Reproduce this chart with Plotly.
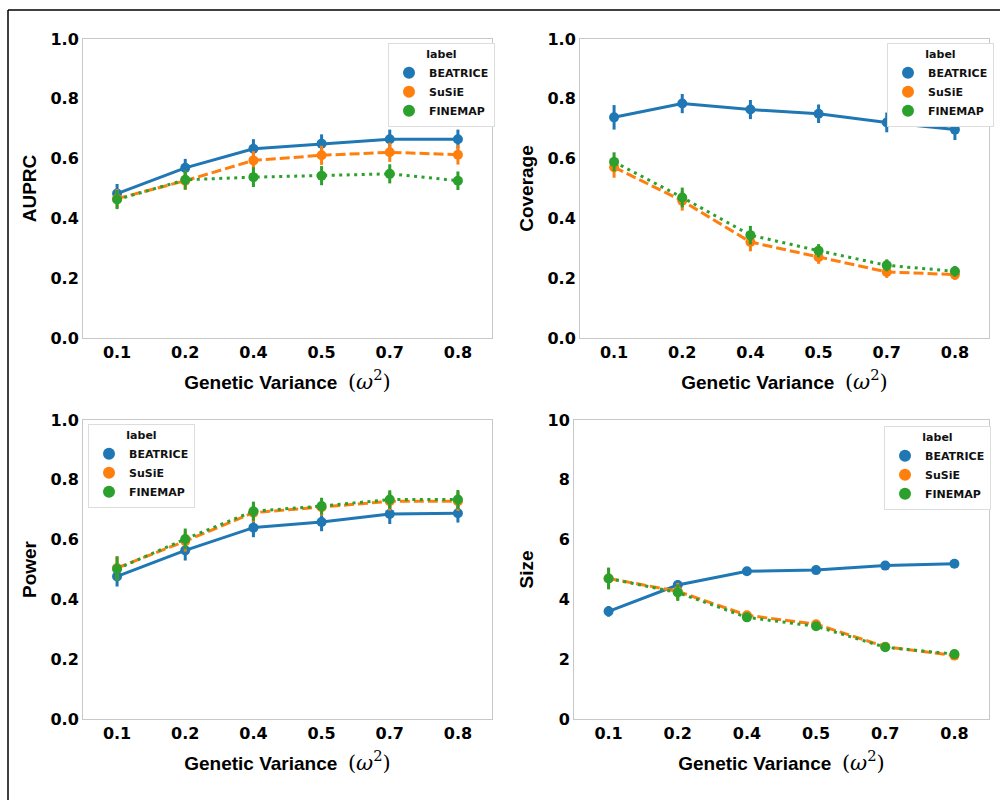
import plotly.graph_objects as go

categories = ["0.1", "0.2", "0.4", "0.5", "0.7", "0.8"]
methods = ["BEATRICE", "SuSiE", "FINEMAP"]

# AUPRC
auprc_beatrice = [0.483, 0.569, 0.633, 0.650, 0.665, 0.665]
auprc_susie = [0.466, 0.526, 0.594, 0.611, 0.621, 0.613]
auprc_finemap = [0.463, 0.529, 0.538, 0.543, 0.549, 0.526]
auprc_err_beatrice = [0.032, 0.030, 0.032, 0.031, 0.032, 0.032]
auprc_err_susie = [0.032, 0.031, 0.031, 0.032, 0.032, 0.033]
auprc_err_finemap = [0.032, 0.032, 0.033, 0.032, 0.032, 0.031]

# Coverage
cov_beatrice = [0.738, 0.784, 0.764, 0.750, 0.721, 0.697]
cov_susie = [0.571, 0.459, 0.321, 0.270, 0.221, 0.212]
cov_finemap = [0.589, 0.470, 0.344, 0.292, 0.243, 0.223]
cov_err_beatrice = [0.041, 0.032, 0.032, 0.031, 0.033, 0.035]
cov_err_susie = [0.035, 0.033, 0.031, 0.022, 0.020, 0.018]
cov_err_finemap = [0.032, 0.033, 0.031, 0.022, 0.020, 0.018]

# Power
pow_beatrice = [0.477, 0.564, 0.640, 0.659, 0.686, 0.688]
pow_susie = [0.505, 0.595, 0.690, 0.708, 0.728, 0.728]
pow_finemap = [0.502, 0.602, 0.695, 0.712, 0.734, 0.734]
pow_err_beatrice = [0.034, 0.034, 0.032, 0.031, 0.034, 0.031]
pow_err_susie = [0.040, 0.035, 0.032, 0.028, 0.031, 0.032]
pow_err_finemap = [0.041, 0.035, 0.032, 0.028, 0.031, 0.032]

# Size
size_beatrice = [3.60, 4.48, 4.94, 4.98, 5.13, 5.19]
size_susie = [4.70, 4.27, 3.47, 3.17, 2.42, 2.12]
size_finemap = [4.70, 4.23, 3.40, 3.10, 2.40, 2.17]
size_err_beatrice = [0.18, 0.15, 0.06, 0.05, 0.05, 0.05]
size_err_susie = [0.36, 0.28, 0.12, 0.10, 0.06, 0.06]
size_err_finemap = [0.36, 0.28, 0.12, 0.10, 0.06, 0.06]

colors = {"BEATRICE": "#1f77b4", "SuSiE": "#ff7f0e", "FINEMAP": "#2ca02c"}
dashes = {"BEATRICE": "solid", "SuSiE": "10px,4px", "FINEMAP": "3px,4.5px"}

panels = [
    ("AUPRC", [auprc_beatrice, auprc_susie, auprc_finemap],
     [auprc_err_beatrice, auprc_err_susie, auprc_err_finemap], [0, 1.0], 0.2, ".1f"),
    ("Coverage", [cov_beatrice, cov_susie, cov_finemap],
     [cov_err_beatrice, cov_err_susie, cov_err_finemap], [0, 1.0], 0.2, ".1f"),
    ("Power", [pow_beatrice, pow_susie, pow_finemap],
     [pow_err_beatrice, pow_err_susie, pow_err_finemap], [0, 1.0], 0.2, ".1f"),
    ("Size", [size_beatrice, size_susie, size_finemap],
     [size_err_beatrice, size_err_susie, size_err_finemap], [0, 10], 2, "d"),
]

W, H = 1000, 800
# plot-area boxes in pixels: (left, right, top, bottom)
boxes = [
    (83, 492, 39, 338),
    (580, 989, 39, 338),
    (83, 492, 420, 719),
    (574, 989, 420, 719),
]
# legend top-left corners in pixels
legend_pos = [(388, 43), (887, 43), (88, 424), (884, 426)]

fig = go.Figure()
tickfont = dict(family="DejaVu Sans", size=16, color="black", weight="bold")
titlefont = dict(family="Liberation Sans", size=19, color="black", weight="bold")
xtitle = ("Genetic Variance\u00a0 <span style='font-family:DejaVu Serif;font-weight:normal;font-size:21px;'>"
          "(<i>ω</i><sup>2</sup>)</span>" + "\u00a0" * 4)

for i, (ylabel, series, errs, yrange, dtick, fmt) in enumerate(panels):
    n = "" if i == 0 else str(i + 1)
    xa, ya = "x" + n, "y" + n
    leg = "legend" + n
    for m, vals, err in zip(methods, series, errs):
        fig.add_trace(go.Scatter(
            x=categories, y=vals, xaxis=xa, yaxis=ya,
            mode="lines+markers", showlegend=False,
            line=dict(color=colors[m], width=3, dash=dashes[m]),
            marker=dict(color=colors[m], size=10),
            error_y=dict(type="data", array=err, visible=True,
                         color=colors[m], thickness=3, width=0),
        ))
    for m in methods:
        fig.add_trace(go.Scatter(
            x=[None], y=[None], xaxis=xa, yaxis=ya, mode="markers",
            name=m, legend=leg, showlegend=True,
            marker=dict(color=colors[m], size=12),
        ))
    l, r, t, b = boxes[i]
    axname = "xaxis" + n
    yaxname = "yaxis" + n
    fig.update_layout(**{
        axname: dict(
            domain=[l / W, r / W], anchor=ya, type="category",
            categoryorder="array", categoryarray=categories,
            range=[-0.5, 5.5], showgrid=False, zeroline=False,
            showline=True, mirror=True, linecolor="#c8c8c8", linewidth=1,
            ticks="", tickfont=tickfont, automargin=False,
            title=dict(text=xtitle, font=titlefont, standoff=14),
        ),
        yaxname: dict(
            domain=[1 - b / H, 1 - t / H], anchor=xa,
            range=yrange, dtick=dtick, tick0=0, tickformat=fmt,
            showgrid=False, zeroline=False,
            showline=True, mirror=True, linecolor="#c8c8c8", linewidth=1,
            ticks="", tickfont=tickfont, automargin=False,
            title=dict(text=ylabel, font=titlefont, standoff=8),
        ),
    })
    lx, ly = legend_pos[i]
    fig.update_layout(**{
        leg: dict(
            x=lx / W, y=1 - ly / H, xanchor="left", yanchor="top",
            xref="paper", yref="paper",
            bgcolor="white", bordercolor="#dddddd", borderwidth=1,
            font=dict(family="DejaVu Sans", size=11, color="#111111", weight="bold"),
            title=dict(text="label", side="top center",
                       font=dict(family="DejaVu Sans", size=11, color="#111111", weight="bold")),
            itemsizing="trace",
        )
    })

# figure frame lines
fig.add_shape(type="line", xref="paper", yref="paper",
              x0=8 / W, x1=1.0, y0=1 - 10 / H, y1=1 - 10 / H,
              line=dict(color="black", width=1.5))
fig.add_shape(type="line", xref="paper", yref="paper",
              x0=8 / W, x1=8 / W, y0=0, y1=1 - 10 / H,
              line=dict(color="black", width=1.5))

fig.update_layout(
    width=W, height=H,
    margin=dict(l=0, r=0, t=0, b=0, autoexpand=False),
    paper_bgcolor="white", plot_bgcolor="white",
)

fig.write_html(
    "out.html",
    config={"displayModeBar": False},
    post_script="document.body.style.margin='0';document.body.style.overflow='hidden';",
)
